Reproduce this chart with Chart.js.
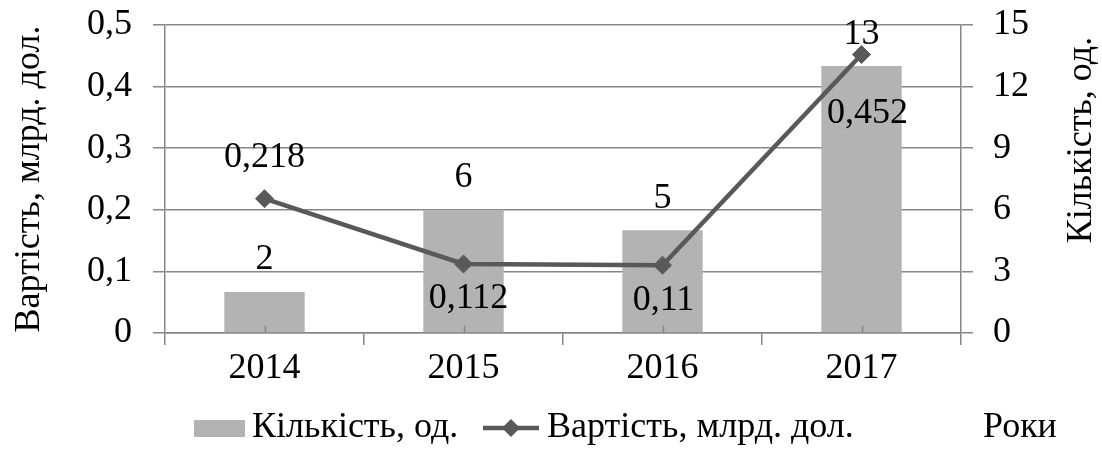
<!DOCTYPE html>
<html>
<head>
<meta charset="utf-8">
<script src="https://cdn.jsdelivr.net/npm/chart.js@4.4.0/dist/chart.umd.min.js"></script>
<style>
    html, body { margin: 0; padding: 0; background: #fff; }
    #wrap { width: 1102px; height: 464px; position: relative; }
</style>
</head>
<body>
<div id="wrap"><canvas id="chart"></canvas></div>
<script>
// data
const years = ['2014', '2015', '2016', '2017'];
const counts = [2, 6, 5, 13];               // Кількість, од. (right axis)
const values = [0.218, 0.112, 0.11, 0.452]; // Вартість, млрд. дол. (left axis)

const countLabel = 'Кількість, од.';
const valueLabel = 'Вартість, млрд. дол.';
const xTitle = 'Роки';

// styling
const FONT = '"Liberation Serif", "Times New Roman", Times, "DejaVu Serif", serif';
const GRID = '#878787';
const BAR_COLOR = '#b3b3b3';
const LINE_COLOR = '#595959';

// where each line label sits relative to its point (dx, dy)
const lineLabelShift = [[0, -41], [5, 35], [1, 35], [6, 59]];
const barLabelShift = -32;

const comma = v => String(v).replace('.', ',');

const extrasPlugin = {
    id: 'extras',
    afterDatasetsDraw(chart) {
        const ctx = chart.ctx;
        const xs = chart.scales.x;
        const area = chart.chartArea;

        // small inner ticks at category centres
        ctx.save();
        ctx.strokeStyle = GRID;
        ctx.lineWidth = 1.5;
        years.forEach((y, i) => {
            const px = Math.round(xs.getPixelForValue(i)) + 0.5;
            ctx.beginPath();
            ctx.moveTo(px, area.bottom - 7);
            ctx.lineTo(px, area.bottom);
            ctx.stroke();
        });
        ctx.restore();

        // value labels
        ctx.save();
        ctx.font = '36px ' + FONT;
        ctx.fillStyle = '#000';
        ctx.textAlign = 'center';
        ctx.textBaseline = 'middle';
        chart.getDatasetMeta(0).data.forEach((el, i) => {
            ctx.fillText(String(counts[i]), el.x, el.y + barLabelShift);
        });
        chart.getDatasetMeta(1).data.forEach((el, i) => {
            const s = lineLabelShift[i];
            ctx.fillText(comma(values[i]), el.x + s[0], el.y + s[1]);
        });
        ctx.restore();
    },
    afterDraw(chart) {
        const ctx = chart.ctx;
        ctx.save();
        ctx.font = '36px ' + FONT;
        ctx.fillStyle = '#000';
        ctx.textBaseline = 'middle';

        // right axis title, reading bottom to top
        ctx.save();
        ctx.translate(1082, 140);
        ctx.rotate(-Math.PI / 2);
        ctx.textAlign = 'center';
        ctx.fillText(countLabel, 0, 0);
        ctx.restore();

        // legend
        const ly = 428;
        ctx.fillStyle = BAR_COLOR;
        ctx.fillRect(194, ly - 8, 51, 17);
        ctx.fillStyle = '#000';
        ctx.textAlign = 'left';
        ctx.fillText(countLabel, 252, ly);

        ctx.strokeStyle = LINE_COLOR;
        ctx.lineWidth = 4.5;
        ctx.beginPath();
        ctx.moveTo(483, ly);
        ctx.lineTo(539, ly);
        ctx.stroke();
        ctx.fillStyle = LINE_COLOR;
        ctx.beginPath();
        ctx.moveTo(502, ly);
        ctx.lineTo(511, ly - 9);
        ctx.lineTo(520, ly);
        ctx.lineTo(511, ly + 9);
        ctx.closePath();
        ctx.fill();

        ctx.fillStyle = '#000';
        ctx.fillText(valueLabel, 547, ly);
        ctx.fillText(xTitle, 983, ly);
        ctx.restore();
    }
};

function noVertPad(s) {
    s.paddingTop = 0;
    s.paddingBottom = 0;
}

function draw() {
    const ctx = document.getElementById('chart').getContext('2d');
    new Chart(ctx, {
        type: 'bar',
        data: {
            labels: years,
            datasets: [{
                type: 'bar',
                label: countLabel,
                data: counts,
                yAxisID: 'y1',
                backgroundColor: BAR_COLOR,
                barPercentage: 0.404,
                categoryPercentage: 1,
                order: 1
            }, {
                type: 'line',
                label: valueLabel,
                data: values,
                yAxisID: 'y',
                borderColor: LINE_COLOR,
                backgroundColor: LINE_COLOR,
                borderWidth: 4.5,
                pointStyle: 'rectRot',
                pointRadius: 9,
                pointBorderWidth: 1,
                tension: 0,
                order: 0
            }]
        },
        options: {
            responsive: true,
            maintainAspectRatio: false,
            animation: false,
            layout: { padding: { top: 25, left: 0, right: 0, bottom: 0 } },
            plugins: {
                legend: { display: false },
                tooltip: { enabled: false }
            },
            scales: {
                x: {
                    type: 'category',
                    offset: true,
                    grid: {
                        offset: true,
                        drawOnChartArea: false,
                        color: GRID,
                        lineWidth: 1.5,
                        tickLength: 12
                    },
                    border: { color: GRID, width: 1.5 },
                    ticks: {
                        color: '#000',
                        font: { family: FONT, size: 36 },
                        padding: 2,
                        maxRotation: 0
                    },
                    afterFit: s => { s.height = 131; s.paddingLeft = 0; s.paddingRight = 0; }
                },
                y: {
                    position: 'left',
                    min: 0,
                    max: 0.5,
                    grid: { color: GRID, lineWidth: 1.5, tickLength: 12 },
                    border: { color: GRID, width: 1.5 },
                    ticks: {
                        stepSize: 0.1,
                        color: '#000',
                        padding: 21,
                        font: { family: FONT, size: 36 },
                        callback: v => v === 0 ? '0' : comma(Math.round(v * 10) / 10)
                    },
                    title: {
                        display: true,
                        text: valueLabel,
                        color: '#000',
                        font: { family: FONT, size: 36 },
                        padding: { top: 8, bottom: 0 }
                    },
                    afterFit: s => { s.width = 165; noVertPad(s); }
                },
                y1: {
                    position: 'right',
                    min: 0,
                    max: 15,
                    grid: { drawOnChartArea: false, color: GRID, lineWidth: 1.5, tickLength: 12 },
                    border: { color: GRID, width: 1.5 },
                    ticks: {
                        stepSize: 3,
                        color: '#000',
                        padding: 20,
                        font: { family: FONT, size: 36 }
                    },
                    afterFit: s => { s.width = 141; noVertPad(s); }
                }
            }
        },
        plugins: [extrasPlugin]
    });
}

document.fonts.load('36px "Liberation Serif"').then(draw, draw);
</script>
</body>
</html>
